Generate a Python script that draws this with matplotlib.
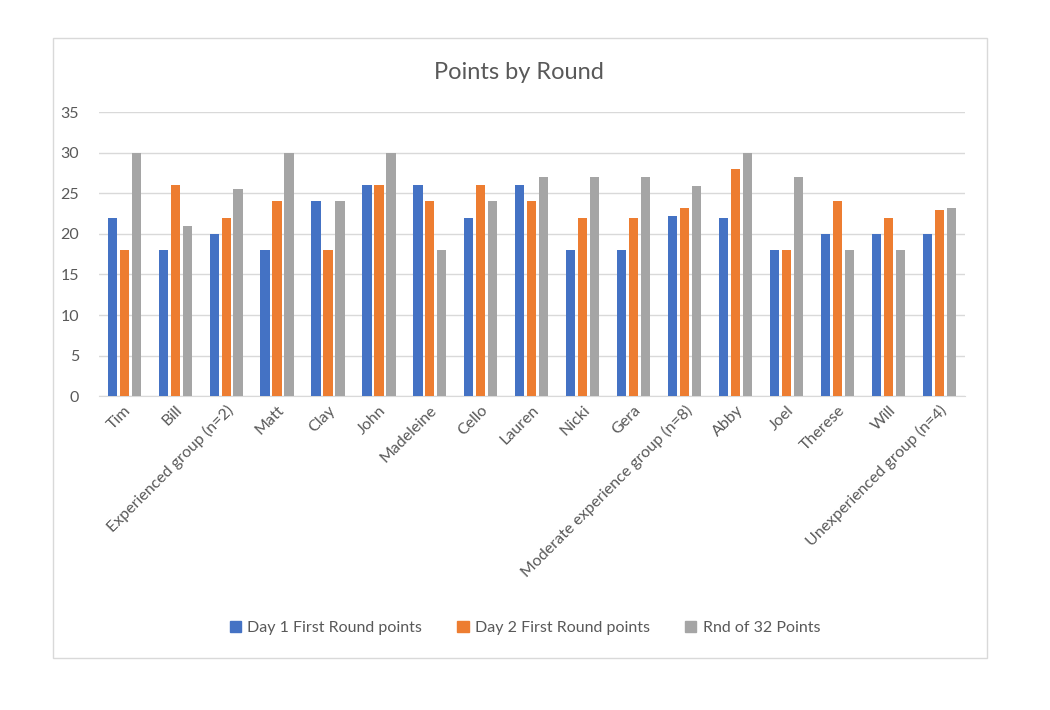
import matplotlib
matplotlib.use("Agg")
import matplotlib.pyplot as plt
import matplotlib.patches as mpatches
import numpy as np

plt.rcParams['font.family'] = ['Lato', 'DejaVu Sans']

# data
names = ['Tim', 'Bill', 'Experienced group (n=2)', 'Matt', 'Clay', 'John',
         'Madeleine', 'Cello', 'Lauren', 'Nicki', 'Gera',
         'Moderate experience group (n=8)', 'Abby', 'Joel', 'Therese', 'Will',
         'Unexperienced group (n=4)']
day1 = [22, 18, 20, 18, 24, 26, 26, 22, 26, 18, 18, 22.25, 22, 18, 20, 20, 20]
day2 = [18, 26, 22, 24, 18, 26, 24, 26, 24, 22, 22, 23.25, 28, 18, 24, 22, 23]
rnd32 = [30, 21, 25.5, 30, 24, 30, 18, 24, 27, 27, 27, 25.875, 30, 27, 18, 18, 23.25]
series_labels = ['Day 1 First Round points', 'Day 2 First Round points', 'Rnd of 32 Points']
colors = ['#4472C4', '#ED7D31', '#A5A5A5']

fig = plt.figure(figsize=(10.5, 7.1), dpi=100)
ax = fig.add_axes([0.094, 0.442, 0.825, 0.400])

# outer chart border
fig.patches.append(mpatches.Rectangle((53 / 1050, 1 - 658 / 710), 934 / 1050, 620 / 710,
                                      transform=fig.transFigure, fill=False,
                                      edgecolor='#D9D9D9', linewidth=1))

x = np.arange(len(names))
w = 0.18
off = 0.235
for i, vals in enumerate([day1, day2, rnd32]):
    ax.bar(x + (i - 1) * off, vals, w, color=colors[i], label=series_labels[i], zorder=3)

ax.set_xlim(-0.5, len(names) - 0.5)
ax.set_ylim(0, 35)
ax.set_yticks(range(0, 36, 5))
ax.grid(axis='y', color='#D9D9D9', linewidth=1, zorder=0)
for s in ['top', 'right', 'left']:
    ax.spines[s].set_visible(False)
ax.spines['bottom'].set_color('#D9D9D9')
ax.tick_params(length=0, colors='#595959', labelsize=11.5)
ax.tick_params(axis='y', pad=14)
ax.tick_params(axis='x', pad=5)
ax.set_xticks(x)
ax.set_xticklabels(names, rotation=45, ha='right', rotation_mode='anchor')

fig.text(0.494, 0.898, 'Points by Round', ha='center', va='center', fontsize=17, color='#595959')

handles = [mpatches.Patch(color=c) for c in colors]
fig.legend(handles, series_labels, loc='center', bbox_to_anchor=(0.5, 1 - 628 / 710),
           ncol=3, frameon=False, fontsize=11.5, labelcolor='#595959',
           handlelength=0.7, handleheight=0.7, handletextpad=0.4, columnspacing=2.2)

fig.savefig('out.png', dpi=100, facecolor='white')
